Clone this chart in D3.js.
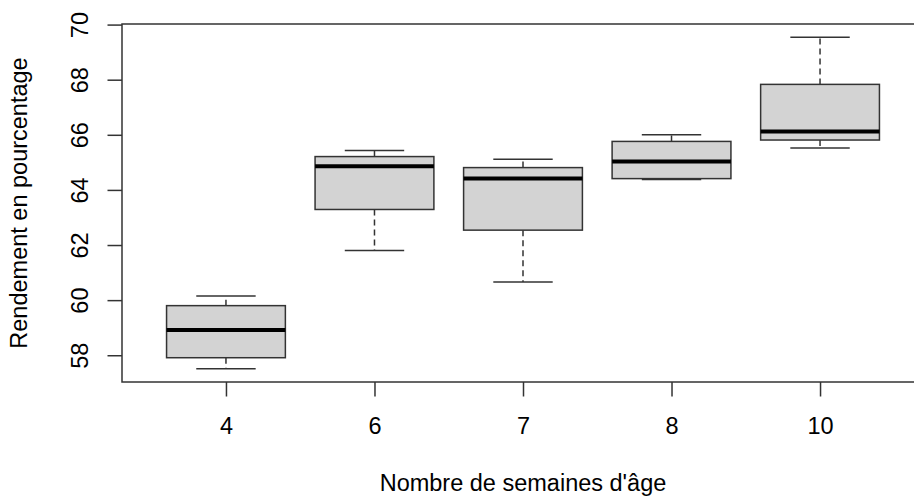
<!DOCTYPE html>
<html>
<head>
<meta charset="utf-8">
<script src="https://cdn.jsdelivr.net/npm/d3@7"></script>
<style>
  html, body { margin: 0; padding: 0; background: #fff; overflow: hidden; }
  svg { display: block; }
  text { font-family: "Liberation Sans", Arial, sans-serif; fill: #000; }
</style>
</head>
<body>
<script>
// Yield by age group (weeks): five-number summaries per group
const categories  = ["4", "6", "7", "8", "10"];
const whiskerLow  = [57.51, 61.80, 60.66, 64.38, 65.52];
const q1          = [57.91, 63.29, 62.54, 64.41, 65.81];
const medians     = [58.92, 64.86, 64.41, 65.03, 66.12];
const q3          = [59.80, 65.21, 64.81, 65.76, 67.83];
const whiskerHigh = [60.15, 65.43, 65.11, 66.00, 69.54];
const yTicks      = [58, 60, 62, 64, 66, 68, 70];
const xTitle = "Nombre de semaines d'âge";
const yTitle = "Rendement en pourcentage";

const W = 914, H = 497;
const plot = { left: 122, right: 924, top: 24, bottom: 382 };
const fontSize = 23.5;

const svg = d3.select("body").append("svg")
  .attr("width", W).attr("height", H);

// Group positions 1..n, range 0.5 .. n+0.5 padded by 4% on each side
const n = categories.length;
const xPad = 0.04 * n;
const x = d3.scaleLinear()
  .domain([0.5 - xPad, n + 0.5 + xPad])
  .range([plot.left, plot.right]);

const yMin = d3.min(whiskerLow), yMax = d3.max(whiskerHigh);
const yPad = 0.04 * (yMax - yMin);
const y = d3.scaleLinear()
  .domain([yMin - yPad, yMax + yPad])
  .range([plot.bottom, plot.top]);

const boxHalf = 0.4, stapleHalf = 0.2;
const rows = categories.map((c, i) => ({
  cat: c, pos: i + 1,
  lo: whiskerLow[i], q1: q1[i], med: medians[i], q3: q3[i], hi: whiskerHigh[i]
}));

const lineCol = "#333";
const g = svg.append("g");

const box = g.selectAll("g.box").data(rows).join("g").attr("class", "box");

// dashed whiskers
box.append("line")
  .attr("x1", d => x(d.pos)).attr("x2", d => x(d.pos))
  .attr("y1", d => y(d.q3)).attr("y2", d => y(d.hi))
  .attr("stroke", lineCol).attr("stroke-width", 1.5).attr("stroke-dasharray", "6,4");
box.append("line")
  .attr("x1", d => x(d.pos)).attr("x2", d => x(d.pos))
  .attr("y1", d => y(d.q1)).attr("y2", d => y(d.lo))
  .attr("stroke", lineCol).attr("stroke-width", 1.5).attr("stroke-dasharray", "6,4");

// staples
["hi", "lo"].forEach(k => {
  box.append("line")
    .attr("x1", d => x(d.pos - stapleHalf)).attr("x2", d => x(d.pos + stapleHalf))
    .attr("y1", d => y(d[k])).attr("y2", d => y(d[k]))
    .attr("stroke", lineCol).attr("stroke-width", 1.5);
});

// boxes
box.append("rect")
  .attr("x", d => x(d.pos - boxHalf))
  .attr("width", d => x(d.pos + boxHalf) - x(d.pos - boxHalf))
  .attr("y", d => y(d.q3))
  .attr("height", d => y(d.q1) - y(d.q3))
  .attr("fill", "#d3d3d3").attr("stroke", lineCol).attr("stroke-width", 1.5);

// medians
box.append("line")
  .attr("x1", d => x(d.pos - boxHalf)).attr("x2", d => x(d.pos + boxHalf))
  .attr("y1", d => y(d.med)).attr("y2", d => y(d.med))
  .attr("stroke", "#000").attr("stroke-width", 4);

// plot frame
svg.append("rect")
  .attr("x", plot.left).attr("y", plot.top)
  .attr("width", plot.right - plot.left).attr("height", plot.bottom - plot.top)
  .attr("fill", "none").attr("stroke", lineCol).attr("stroke-width", 1.5);

// x axis
const xAxis = d3.axisBottom(x)
  .tickValues(rows.map(d => d.pos))
  .tickFormat((d, i) => categories[i])
  .tickSize(14.5).tickPadding(0);
const xg = svg.append("g").attr("transform", `translate(0,${plot.bottom})`).call(xAxis);
xg.select(".domain").remove();
xg.selectAll(".tick line").attr("stroke", lineCol).attr("stroke-width", 1.5);
xg.selectAll(".tick text")
  .attr("y", 52).attr("dy", null)
  .style("font-size", fontSize + "px").style("font-family", "Liberation Sans, Arial, sans-serif")
  .attr("fill", "#000");

// y axis
const yAxis = d3.axisLeft(y).tickValues(yTicks).tickSize(14.5).tickPadding(0);
const yg = svg.append("g").attr("transform", `translate(${plot.left},0)`).call(yAxis);
yg.select(".domain").remove();
yg.selectAll(".tick line").attr("stroke", lineCol).attr("stroke-width", 1.5);
yg.selectAll(".tick text")
  .attr("x", null).attr("dy", null)
  .attr("text-anchor", "middle")
  .attr("transform", "translate(-34,0) rotate(-90)")
  .style("font-size", fontSize + "px").style("font-family", "Liberation Sans, Arial, sans-serif")
  .attr("fill", "#000");

// axis titles
svg.append("text")
  .attr("x", (plot.left + plot.right) / 2).attr("y", 491)
  .attr("text-anchor", "middle").style("font-size", fontSize + "px")
  .text(xTitle);
svg.append("text")
  .attr("transform", `translate(27,${(plot.top + plot.bottom) / 2}) rotate(-90)`)
  .attr("text-anchor", "middle").style("font-size", fontSize + "px")
  .text(yTitle);
</script>
</body>
</html>
